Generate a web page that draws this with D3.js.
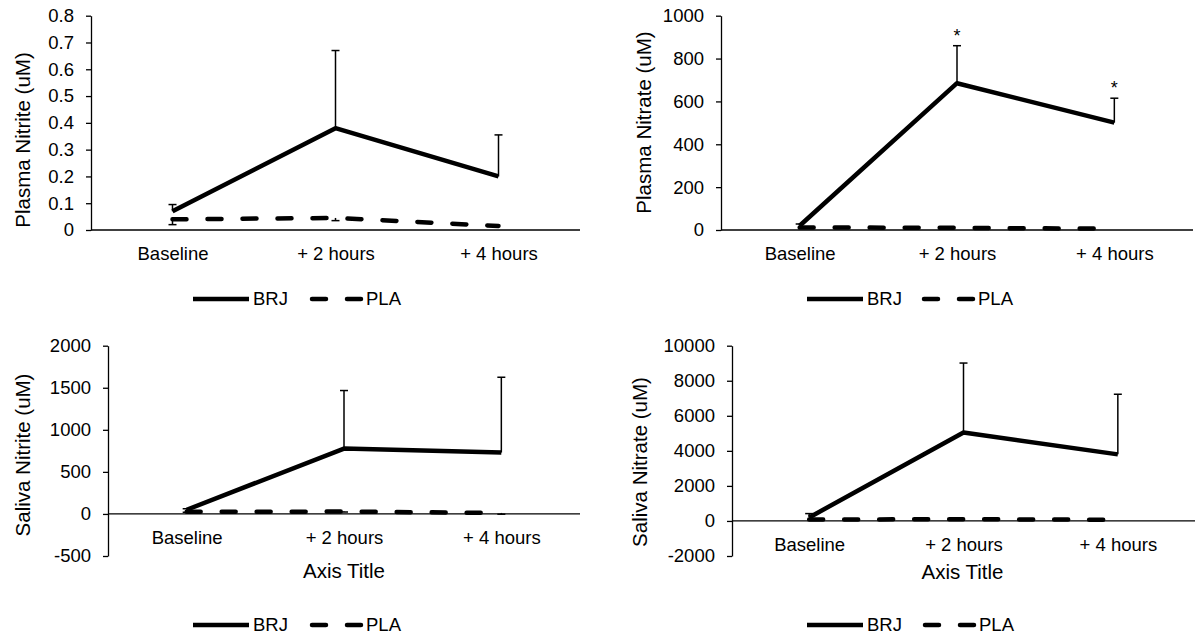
<!DOCTYPE html>
<html>
<head>
<meta charset="utf-8">
<script src="https://cdn.jsdelivr.net/npm/d3@7"></script>
<style>
  html, body { margin: 0; padding: 0; background: #fff; }
  svg { display: block; font-family: "Liberation Sans", Arial, sans-serif; }
</style>
</head>
<body>
<svg id="chart" width="1195" height="640"></svg>
<script>
// ---------------- DATA ----------------
const categories = ["Baseline", "+ 2 hours", "+ 4 hours"];
const seriesNames = ["BRJ", "PLA"];

const plasmaNitriteBRJ    = [0.07, 0.38, 0.20];
const plasmaNitriteBRJ_SD = [0.025, 0.29, 0.155];
const plasmaNitritePLA    = [0.04, 0.045, 0.015];
const plasmaNitritePLA_SD = [0.02, 0.01, 0.0];
const plasmaNitriteTicks  = [0, 0.1, 0.2, 0.3, 0.4, 0.5, 0.6, 0.7, 0.8];

const plasmaNitrateBRJ    = [20, 685, 501];
const plasmaNitrateBRJ_SD = [8, 175, 114];
const plasmaNitratePLA    = [12, 10, 6];
const plasmaNitratePLA_SD = [0, 0, 0];
const plasmaNitrateTicks  = [0, 200, 400, 600, 800, 1000];
const plasmaNitrateSignif = [false, true, true];

const salivaNitriteBRJ    = [50, 777, 730];
const salivaNitriteBRJ_SD = [12, 690, 895];
const salivaNitritePLA    = [25, 28, 12];
const salivaNitritePLA_SD = [5, 5, 15];
const salivaNitriteTicks  = [-500, 0, 500, 1000, 1500, 2000];

const salivaNitrateBRJ    = [200, 5050, 3800];
const salivaNitrateBRJ_SD = [220, 3960, 3430];
const salivaNitratePLA    = [80, 100, 70];
const salivaNitratePLA_SD = [0, 0, 0];
const salivaNitrateTicks  = [-2000, 0, 2000, 4000, 6000, 8000, 10000];

const yTitles = ["Plasma Nitrite (uM)", "Plasma Nitrate (uM)", "Saliva Nitrite (uM)", "Saliva Nitrate (uM)"];
const xTitle = "Axis Title";

// ---------------- LAYOUT ----------------
const panels = [
  { brj: plasmaNitriteBRJ, brjSD: plasmaNitriteBRJ_SD, pla: plasmaNitritePLA, plaSD: plasmaNitritePLA_SD,
    ticks: plasmaNitriteTicks, yTitle: yTitles[0], signif: null, showXTitle: false,
    x0: 91, x1: 580, yTop: 15.7, yBot: 230, tX: 22.5, tY: 140, xtX: 0, xtY: 0,
    legY: 299, legBRJ: 193, legPLA: 310 },
  { brj: plasmaNitrateBRJ, brjSD: plasmaNitrateBRJ_SD, pla: plasmaNitratePLA, plaSD: plasmaNitratePLA_SD,
    ticks: plasmaNitrateTicks, yTitle: yTitles[1], signif: plasmaNitrateSignif, showXTitle: false,
    x0: 721, x1: 1193, yTop: 15.7, yBot: 230, tX: 644, tY: 122.5, xtX: 0, xtY: 0,
    legY: 299, legBRJ: 807, legPLA: 922 },
  { brj: salivaNitriteBRJ, brjSD: salivaNitriteBRJ_SD, pla: salivaNitritePLA, plaSD: salivaNitritePLA_SD,
    ticks: salivaNitriteTicks, yTitle: yTitles[2], signif: null, showXTitle: true,
    x0: 108, x1: 580, yTop: 345.7, yBot: 556, tX: 22.5, tY: 455, xtX: 344, xtY: 571,
    legY: 625, legBRJ: 193, legPLA: 310 },
  { brj: salivaNitrateBRJ, brjSD: salivaNitrateBRJ_SD, pla: salivaNitratePLA, plaSD: salivaNitratePLA_SD,
    ticks: salivaNitrateTicks, yTitle: yTitles[3], signif: null, showXTitle: true,
    x0: 732, x1: 1195, yTop: 345.7, yBot: 556, tX: 639.5, tY: 462, xtX: 962.5, xtY: 572,
    legY: 625, legBRJ: 807, legPLA: 923 }
];

const TICK_FS = 18.5, TITLE_FS = 20.5;
const LINE_W = 4.5, DASH = "14,21";

const svg = d3.select("#chart");

panels.forEach(p => {
  const g = svg.append("g");
  const ext = d3.extent(p.ticks);
  const y = d3.scaleLinear().domain(ext).range([p.yBot, p.yTop]);
  const x = d3.scalePoint().domain(categories).range([p.x0, p.x1]).padding(0.5);

  // y axis
  const yAxis = d3.axisLeft(y).tickValues(p.ticks).tickSize(5).tickSizeOuter(0)
    .tickPadding(12).tickFormat(d => String(d));
  const ya = g.append("g").attr("transform", `translate(${p.x0},0)`).call(yAxis);
  ya.select(".domain").attr("stroke", "#000").attr("stroke-width", 1.3);
  ya.selectAll(".tick line").attr("stroke", "#000").attr("stroke-width", 1.3);
  ya.selectAll(".tick text").attr("font-size", TICK_FS).attr("fill", "#000")
    .attr("font-family", "Liberation Sans, Arial, sans-serif");

  // x axis at zero
  const xAxis = d3.axisBottom(x).tickSize(0).tickSizeOuter(0).tickPadding(17);
  const xa = g.append("g").attr("transform", `translate(0,${y(0)})`).call(xAxis);
  xa.select(".domain").attr("stroke", "#000").attr("stroke-width", 1.3)
    .attr("d", `M${p.x0},0H${p.x1}`);
  xa.selectAll(".tick text").attr("font-size", TICK_FS).attr("fill", "#000")
    .attr("font-family", "Liberation Sans, Arial, sans-serif");

  // y title
  g.append("text")
    .attr("transform", `translate(${p.tX},${p.tY}) rotate(-90)`)
    .attr("text-anchor", "middle").attr("dy", "0.35em")
    .attr("font-size", TITLE_FS).attr("fill", "#000")
    .text(p.yTitle);

  if (p.showXTitle) {
    g.append("text").attr("x", p.xtX).attr("y", p.xtY)
      .attr("text-anchor", "middle").attr("dy", "0.35em")
      .attr("font-size", TITLE_FS).attr("fill", "#000").text(xTitle);
  }

  const line = d3.line().x((d, i) => x(categories[i])).y(d => y(d));

  // error bars: BRJ up, PLA down
  const drawErr = (vals, sds, dir) => {
    vals.forEach((v, i) => {
      const sd = sds[i];
      if (!sd) return;
      const cx = x(categories[i]);
      const yEnd = y(v + dir * sd);
      g.append("line").attr("x1", cx).attr("x2", cx).attr("y1", y(v)).attr("y2", yEnd)
        .attr("stroke", "#000").attr("stroke-width", 1.5);
      g.append("line").attr("x1", cx - 4).attr("x2", cx + 4).attr("y1", yEnd).attr("y2", yEnd)
        .attr("stroke", "#000").attr("stroke-width", 1.5);
    });
  };
  drawErr(p.brj, p.brjSD, 1);
  drawErr(p.pla, p.plaSD, -1);

  // PLA dashed
  g.append("path").datum(p.pla).attr("d", line)
    .attr("fill", "none").attr("stroke", "#000").attr("stroke-width", LINE_W)
    .attr("stroke-dasharray", DASH).attr("stroke-linecap", "round");
  // BRJ solid
  g.append("path").datum(p.brj).attr("d", line)
    .attr("fill", "none").attr("stroke", "#000").attr("stroke-width", LINE_W)
    .attr("stroke-linejoin", "round");

  // significance stars
  if (p.signif) {
    p.signif.forEach((s, i) => {
      if (!s) return;
      g.append("text").attr("x", x(categories[i])).attr("y", y(p.brj[i] + p.brjSD[i]) - 4)
        .attr("text-anchor", "middle").attr("font-size", 18).attr("fill", "#000").text("*");
    });
  }

  // legend
  const lg = g.append("g");
  lg.append("line").attr("x1", p.legBRJ).attr("x2", p.legBRJ + 56)
    .attr("y1", p.legY).attr("y2", p.legY)
    .attr("stroke", "#000").attr("stroke-width", LINE_W);
  lg.append("text").attr("x", p.legBRJ + 60).attr("y", p.legY).attr("dy", "0.35em")
    .attr("font-size", TICK_FS).attr("fill", "#000").text(seriesNames[0]);
  lg.append("line").attr("x1", p.legPLA + 2).attr("x2", p.legPLA + 51)
    .attr("y1", p.legY).attr("y2", p.legY)
    .attr("stroke", "#000").attr("stroke-width", LINE_W)
    .attr("stroke-dasharray", DASH).attr("stroke-linecap", "round");
  lg.append("text").attr("x", p.legPLA + 56).attr("y", p.legY).attr("dy", "0.35em")
    .attr("font-size", TICK_FS).attr("fill", "#000").text(seriesNames[1]);
});
</script>
</body>
</html>
